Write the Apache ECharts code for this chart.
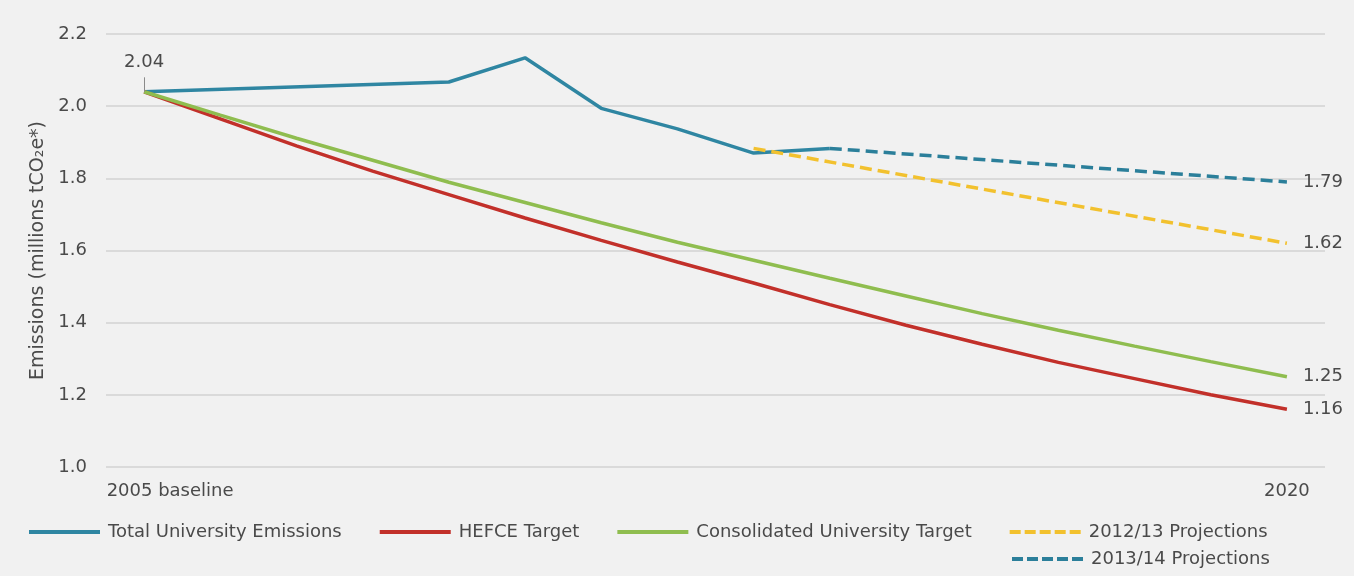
<!DOCTYPE html>
<html>
<head>
<meta charset="utf-8">
<script src="https://cdn.jsdelivr.net/npm/echarts@6/dist/echarts.min.js"></script>
<style>
  html, body { margin: 0; padding: 0; background: #f1f1f1; }
  #chart { width: 1354px; height: 576px; }
</style>
</head>
<body>
<div id="chart"></div>
<script>
// Categories (years 2005 .. 2020)
const years = ['2005 baseline', '2006', '2007', '2008', '2009', '2010', '2011', '2012',
               '2013', '2014', '2015', '2016', '2017', '2018', '2019', '2020'];

// Series values (millions tCO2e), null = no value for that year
const totalEmissions = [2.04, null, null, null, 2.067, 2.134, 1.994, 1.937, 1.870, 1.883,
                        null, null, null, null, null, null];
const hefceTarget = [2.04, 1.965, 1.89, 1.82, 1.755, 1.69, 1.628, 1.568, 1.51, 1.45,
                     1.393, 1.34, 1.29, 1.245, 1.20, 1.16];
const consolidatedTarget = [2.04, 1.975, 1.911, 1.85, 1.789, 1.733, 1.677, 1.623, 1.573, 1.523,
                            1.474, 1.425, 1.379, 1.335, 1.292, 1.25];
const proj1213 = [null, null, null, null, null, null, null, null, 1.883, null,
                  null, null, null, null, null, 1.62];
const proj1314 = [null, null, null, null, null, null, null, null, null, 1.883,
                  null, null, null, null, null, 1.79];

// Tick labels
const yTicks = { min: 1.0, max: 2.2, interval: 0.2 };
const seriesNames = ['Total University Emissions', 'HEFCE Target', 'Consolidated University Target',
                     '2012/13 Projections', '2013/14 Projections'];

const FONT = 'DejaVu Sans';
const TXT = '#4a4a4a';
const colors = { blue: '#2f86a2', red: '#c2302a', green: '#8fbd4f', yellow: '#f2c12e', blueDash: '#2b7f9a' };
const DASH = [12, 6];
const dashIcon = 'path://M0,0h11v4h-11z M15,0h11v4h-11z M30,0h11v4h-11z M45,0h11v4h-11z M60,0h11v4h-11z';

const endLabel = {
  show: true, distance: 16, fontFamily: FONT, fontSize: 18, color: TXT,
  formatter: p => Number(p.value).toFixed(2)
};
const legendText = { fontFamily: FONT, fontSize: 18, color: TXT, padding: [0, 0, 0, 3] };

const chart = echarts.init(document.getElementById('chart'), null, { renderer: 'canvas' });
chart.setOption({
  backgroundColor: '#f1f1f1',
  animation: false,
  grid: { left: 106, right: 29, top: 34, bottom: 109, containLabel: false },
  legend: [
    {
      data: [
        { name: seriesNames[0], icon: 'rect' },
        { name: seriesNames[1], icon: 'rect' },
        { name: seriesNames[2], icon: 'rect' },
        { name: seriesNames[3], icon: dashIcon }
      ],
      left: 29, top: 523, padding: 0, itemWidth: 71, itemHeight: 4, itemGap: 38,
      textStyle: legendText
    },
    {
      data: [{ name: seriesNames[4], icon: dashIcon }],
      left: 1012, top: 550, padding: 0, itemWidth: 71, itemHeight: 4,
      textStyle: legendText
    }
  ],
  xAxis: {
    type: 'category', data: years, boundaryGap: true,
    axisLine: { show: false }, axisTick: { show: false }, splitLine: { show: false },
    axisLabel: {
      margin: 15, fontFamily: FONT, fontSize: 18, color: TXT,
      interval: (i) => i === 0 || i === years.length - 1,
      formatter: (v, i) => i === 0 ? '{first|' + v + '}' : v,
      rich: { first: { fontFamily: FONT, fontSize: 18, color: TXT, padding: [0, 0, 0, 52] } }
    }
  },
  yAxis: {
    type: 'value', min: yTicks.min, max: yTicks.max, interval: yTicks.interval,
    name: 'Emissions (millions tCO\u2082e*)', nameLocation: 'middle', nameGap: 55,
    nameTextStyle: { fontFamily: FONT, fontSize: 19, color: TXT },
    axisLine: { show: false }, axisTick: { show: false },
    axisLabel: { margin: 19, fontFamily: FONT, fontSize: 18, color: TXT, formatter: v => v.toFixed(1) },
    splitLine: { lineStyle: { color: '#dadada', width: 2 } }
  },
  series: [
    {
      name: seriesNames[0], type: 'line', data: totalEmissions, connectNulls: true, symbol: 'none',
      lineStyle: { color: colors.blue, width: 3.5 }, itemStyle: { color: colors.blue },
      markLine: {
        silent: true, symbol: 'none', label: { show: false },
        lineStyle: { color: '#8a8a8a', width: 1, type: 'solid' },
        data: [[{ coord: [0, totalEmissions[0]] }, { coord: [0, totalEmissions[0] + 0.04] }]]
      },
      markPoint: {
        silent: true, symbol: 'circle', symbolSize: 2,
        itemStyle: { color: 'rgba(0,0,0,0)' },
        label: {
          show: true, position: 'top', distance: 19, fontFamily: FONT, fontSize: 18, color: TXT,
          formatter: p => Number(p.value).toFixed(2)
        },
        data: [{ coord: [0, totalEmissions[0]], value: totalEmissions[0] }]
      }
    },
    {
      name: seriesNames[1], type: 'line', data: hefceTarget, symbol: 'none',
      lineStyle: { color: colors.red, width: 3.5 }, itemStyle: { color: colors.red },
      endLabel: endLabel
    },
    {
      name: seriesNames[2], type: 'line', data: consolidatedTarget, symbol: 'none',
      lineStyle: { color: colors.green, width: 3.5 }, itemStyle: { color: colors.green },
      endLabel: endLabel
    },
    {
      name: seriesNames[3], type: 'line', data: proj1213, connectNulls: true, symbol: 'none',
      lineStyle: { color: colors.yellow, width: 3.5, type: DASH }, itemStyle: { color: colors.yellow },
      endLabel: endLabel
    },
    {
      name: seriesNames[4], type: 'line', data: proj1314, connectNulls: true, symbol: 'none',
      lineStyle: { color: colors.blueDash, width: 3.5, type: DASH }, itemStyle: { color: colors.blueDash },
      endLabel: endLabel
    }
  ]
});
</script>
</body>
</html>
